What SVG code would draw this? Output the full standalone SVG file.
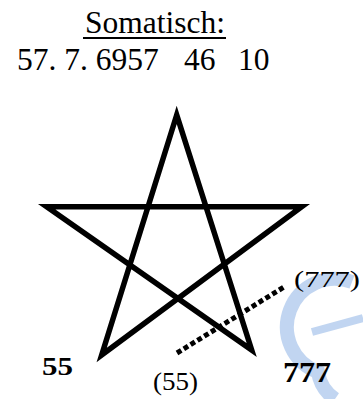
<svg xmlns="http://www.w3.org/2000/svg" width="363" height="399" viewBox="0 0 363 399">
<style>
text{font-family:'Liberation Serif','Times New Roman','DejaVu Serif',serif;fill:#000}
.b{font-weight:bold}
.star{fill:none;stroke:#000;stroke-width:5.5;stroke-linejoin:miter;stroke-linecap:round}
.dot{fill:none;stroke:#000;stroke-width:5;stroke-dasharray:5 3}
</style>
<rect width="363" height="399" fill="#fff"/>
<g id="watermark" opacity="0.55">
<path d="M 352 282 A 45 45 0 0 0 318 372 A 40 40 0 0 0 335 399" fill="none" stroke="#8fb4e6" stroke-width="14"/>
<path d="M 312 332 L 363 318" fill="none" stroke="#8fb4e6" stroke-width="8"/>
</g>
<g id="title">
<text x="155" y="33" font-size="31.5" text-anchor="middle">Somatisch:</text>
<rect x="83" y="37" width="143" height="2" fill="#000"/>
</g>
<g id="numbers">
<text x="17" y="70" font-size="31.5">57. 7. 6957</text>
<text x="184" y="70" font-size="31.5">46</text>
<text x="238" y="70" font-size="31.5">10</text>
</g>
<g id="pentagram">
<path class="star" d="M 176.7 115 L 101.7 355 L 301.7 206.7 L 46.7 206.7 L 251.7 350 Z"/>
</g>
<g id="connectors">
<path class="dot" d="M 177 353 L 284 287"/>
</g>
<g id="labels">
<text class="b" x="42" y="375" font-size="25" textLength="31" lengthAdjust="spacingAndGlyphs">55</text>
<text x="153" y="390" font-size="25" textLength="45" lengthAdjust="spacingAndGlyphs">(55)</text>
<text class="b" x="283" y="382" font-size="29" textLength="48" lengthAdjust="spacingAndGlyphs">777</text>
<text x="294" y="287" font-size="24" textLength="66" lengthAdjust="spacingAndGlyphs">(777)</text>
</g>
</svg>
